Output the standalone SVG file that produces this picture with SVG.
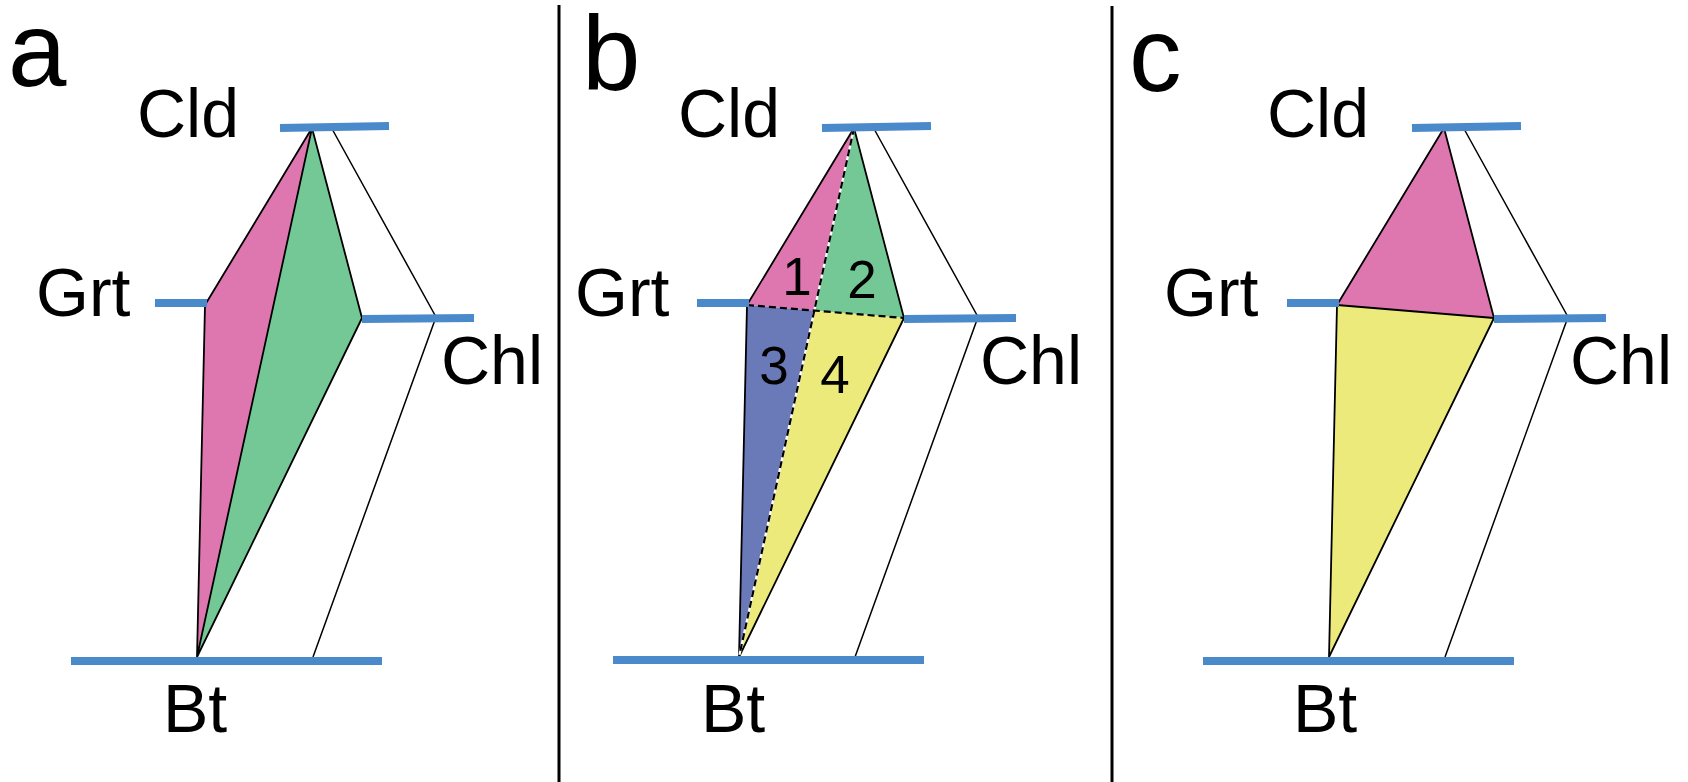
<svg xmlns="http://www.w3.org/2000/svg" width="1688" height="782" viewBox="0 0 1688 782">
<style>
text{font-family:"Liberation Sans",Arial,Helvetica,sans-serif;fill:#000}
.lbl{font-size:68px}
.let{font-size:105px}
.num{font-size:53px;text-anchor:middle}
.bar{stroke:#4A8ACB;stroke-width:8;fill:none}
.edge{stroke:#000;stroke-width:1.8;fill:none;stroke-linejoin:round}
.thin{stroke:#000;stroke-width:1.5;fill:none;stroke-linejoin:miter}
.dash{stroke:#000;stroke-width:2.2;fill:none;stroke-dasharray:7 4}
.wdash{stroke:#fff;stroke-width:2.2;fill:none}
.sep{stroke:#000;stroke-width:3}
.pink{fill:#DE76B0}
.green{fill:#74C896}
.blue{fill:#6A79B8}
.yellow{fill:#EBEA7B}
</style>
<rect width="1688" height="782" fill="#fff"/>
<g id="separators">
<line class="sep" x1="559" y1="5" x2="559" y2="782"/>
<line class="sep" x1="1112" y1="6" x2="1112" y2="782"/>
</g>

<g id="panel-a">
<text class="let" x="8" y="86">a</text>
<g id="a-fields">
<polygon class="pink" points="312,128 205,305 197,657"/>
<polygon class="green" points="312,128 197,657 362,318"/>
</g>
<g id="a-connectors">
<polyline class="thin" points="331,127 436,317 313,657"/>
<polyline class="edge" points="312,128 205,305 197,657 362,318 312,128 197,657"/>
</g>
<g id="a-Cld"><line class="bar" x1="280" y1="128" x2="389" y2="126"/><text class="lbl" x="137" y="137">Cld</text></g>
<g id="a-Grt"><line class="bar" x1="155" y1="303" x2="207" y2="303"/><text class="lbl" x="36" y="316">Grt</text></g>
<g id="a-Chl"><line class="bar" x1="362" y1="319" x2="474" y2="318"/><text class="lbl" x="441" y="384">Chl</text></g>
<g id="a-Bt"><line class="bar" x1="71" y1="661" x2="382" y2="661"/><text class="lbl" x="163" y="732">Bt</text></g>
</g>

<g id="panel-b">
<text class="let" x="582" y="90">b</text>
<g id="b-fields" transform="translate(542,0)">
<polygon class="pink" points="312,128 205,305 272.6,310.6"/>
<polygon class="green" points="312,128 272.6,310.6 362,318"/>
<polygon class="blue" points="205,305 197,657 272.6,310.6"/>
<polygon class="yellow" points="272.6,310.6 197,657 362,318"/>
</g>
<g id="b-connectors" transform="translate(542,0)">
<polyline class="thin" points="331,127 436,317 313,657"/>
<polyline class="edge" points="312,128 205,305 197,657 362,318 312,128"/>
<line class="wdash" x1="312" y1="128" x2="197" y2="657"/>
<line class="dash" x1="312" y1="128" x2="197" y2="657"/>
<line class="dash" x1="205" y1="305" x2="362" y2="318"/>
</g>
<g id="b-numbers">
<text class="num" x="797" y="295">1</text>
<text class="num" x="862" y="298">2</text>
<text class="num" x="774" y="384">3</text>
<text class="num" x="835" y="393">4</text>
</g>
<g id="b-Cld"><line class="bar" x1="822" y1="128" x2="931" y2="126"/><text class="lbl" x="678" y="137">Cld</text></g>
<g id="b-Grt"><line class="bar" x1="697" y1="303" x2="749" y2="303"/><text class="lbl" x="575" y="316">Grt</text></g>
<g id="b-Chl"><line class="bar" x1="904" y1="319" x2="1016" y2="318"/><text class="lbl" x="980" y="384">Chl</text></g>
<g id="b-Bt"><line class="bar" x1="613" y1="660" x2="924" y2="660"/><text class="lbl" x="701" y="732">Bt</text></g>
</g>

<g id="panel-c">
<text class="let" x="1129" y="91">c</text>
<g id="c-fields" transform="translate(1132,0)">
<polygon class="pink" points="312,128 205,305 362,318"/>
<polygon class="yellow" points="205,305 197,657 362,318"/>
</g>
<g id="c-connectors" transform="translate(1132,0)">
<polyline class="thin" points="331,127 436,317 313,657"/>
<polyline class="edge" points="312,128 205,305 197,657 362,318 312,128"/>
<line class="edge" x1="205" y1="305" x2="362" y2="318"/>
</g>
<g id="c-Cld"><line class="bar" x1="1412" y1="128" x2="1521" y2="126"/><text class="lbl" x="1267" y="137">Cld</text></g>
<g id="c-Grt"><line class="bar" x1="1287" y1="303" x2="1339" y2="303"/><text class="lbl" x="1164" y="316">Grt</text></g>
<g id="c-Chl"><line class="bar" x1="1494" y1="319" x2="1606" y2="318"/><text class="lbl" x="1570" y="384">Chl</text></g>
<g id="c-Bt"><line class="bar" x1="1203" y1="661" x2="1514" y2="661"/><text class="lbl" x="1293" y="732">Bt</text></g>
</g>
</svg>
